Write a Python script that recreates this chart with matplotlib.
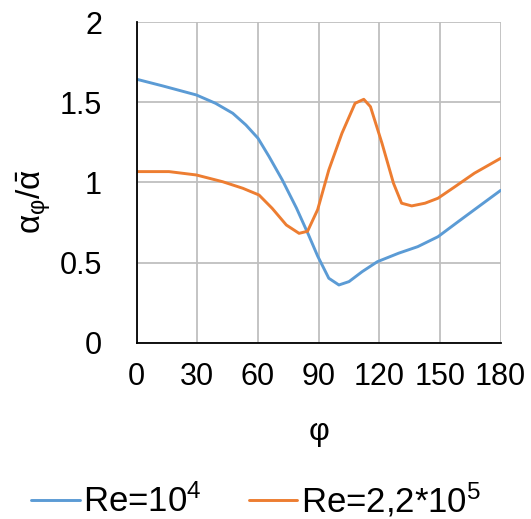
import matplotlib.pyplot as plt

plt.rcParams['font.family'] = ['Liberation Sans', 'DejaVu Sans']
plt.rcParams['mathtext.fontset'] = 'custom'
plt.rcParams['mathtext.rm'] = 'Liberation Sans'
plt.rcParams['mathtext.it'] = 'Liberation Sans'

# Re = 10^4
phi_blue = [0, 13, 29.5, 39, 47.5, 54, 60, 65.5, 72, 79, 85, 89.5, 95, 100, 105, 111.5, 119, 129.5, 139, 149, 159, 169, 180]
val_blue = [1.643, 1.601, 1.545, 1.493, 1.431, 1.358, 1.275, 1.16, 1.015, 0.84, 0.672, 0.54, 0.402, 0.36, 0.381,
            0.443, 0.505, 0.558, 0.599, 0.661, 0.755, 0.848, 0.95]

# Re = 2,2*10^5
phi_orange = [0, 16, 29.5, 42.5, 52.5, 60.5, 67, 74, 80.3, 84.5, 89.5, 95, 101.5, 108, 112.3, 115.6, 121.3,
              127, 131, 136, 142.6, 149, 157.4, 167, 180]
val_orange = [1.067, 1.067, 1.046, 1.004, 0.963, 0.921, 0.838, 0.734, 0.682, 0.695, 0.83, 1.077, 1.306, 1.493,
              1.518, 1.472, 1.244, 0.994, 0.87, 0.853, 0.87, 0.901, 0.973, 1.057, 1.15]

xticks = [0, 30, 60, 90, 120, 150, 180]
yticks = [0, 0.5, 1, 1.5, 2]

fig = plt.figure(figsize=(5.31, 5.19), dpi=100)
ax = fig.add_axes([0.2574, 0.3397, 0.6855, 0.6179])

l1, = ax.plot(phi_blue, val_blue, color='#5B9BD5', lw=2.1, solid_capstyle='round')
l2, = ax.plot(phi_orange, val_orange, color='#ED7D31', lw=2.1, solid_capstyle='round')

ax.set_xlim(0, 180)
ax.set_ylim(0, 2)
ax.set_xticks(xticks)
ax.set_yticks(yticks)
ax.set_yticklabels(['0', '0.5', '1', '1.5', '2'])
ax.grid(True, color='#BFBFBF', lw=1.3)
ax.tick_params(length=0, labelsize=22)
ax.tick_params(axis='x', pad=14)
ax.tick_params(axis='y', pad=25)
for s in ['top', 'right']:
    ax.spines[s].set_visible(False)
ax.spines['left'].set_color('black')
ax.spines['bottom'].set_color('black')
ax.spines['left'].set_linewidth(1.3)
ax.spines['bottom'].set_linewidth(1.3)

fig.text(319 / 531, 1 - 432 / 519, 'φ', fontsize=23, ha='center', va='center')
fig.text(34 / 531, 1 - 201 / 519, r'$\mathregular{\alpha_{\varphi}/\bar{\alpha}}$', fontsize=24,
         rotation=90, ha='center', va='center')

fig.legend([l1, l2], [r'Re=10$^4$', r'Re=2,2*10$^5$'], loc='center', bbox_to_anchor=(256 / 531, 1 - 500 / 519),
           ncol=2, frameon=False, fontsize=25, handlelength=1.4, handletextpad=0.1, columnspacing=1.35,
           borderpad=0, borderaxespad=0)

fig.savefig('out.png', dpi=100)
